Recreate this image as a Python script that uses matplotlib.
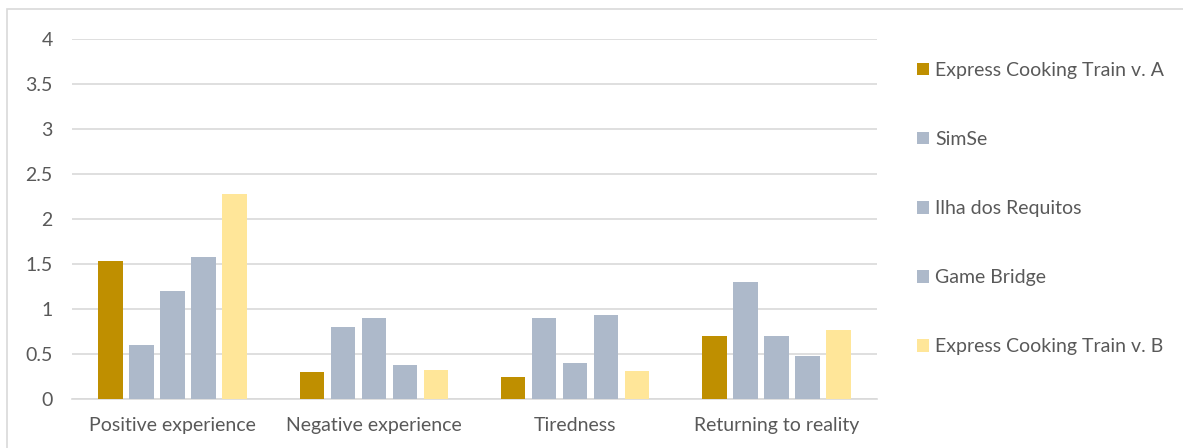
import matplotlib
matplotlib.use("Agg")
import matplotlib.pyplot as plt
from matplotlib.patches import Rectangle
import numpy as np

categories = ["Positive experience", "Negative experience", "Tiredness", "Returning to reality"]
series_names = ["Express Cooking Train v. A", "SimSe", "Ilha dos Requitos", "Game Bridge",
                "Express Cooking Train v. B"]
express_a = [1.53, 0.30, 0.24, 0.70]
simse = [0.60, 0.80, 0.90, 1.30]
ilha = [1.20, 0.90, 0.40, 0.70]
game_bridge = [1.58, 0.38, 0.93, 0.48]
express_b = [2.28, 0.32, 0.31, 0.77]
y_ticks = [0, 0.5, 1, 1.5, 2, 2.5, 3, 3.5, 4]
y_tick_labels = ["0", "0.5", "1", "1.5", "2", "2.5", "3", "3.5", "4"]

colors = ["#BF8F00", "#ADB9CA", "#ADB9CA", "#ADB9CA", "#FFE699"]
text_color = "#595959"
grid_color = "#D9D9D9"

plt.rcParams["font.family"] = ["Lato", "DejaVu Sans"]
fs = 14

W, H = 1183, 448
fig = plt.figure(figsize=(W / 100, H / 100), dpi=100)
ax = fig.add_axes([72 / W, 1 - 399 / H, (877 - 72) / W, (399 - 39) / H])

x = np.arange(len(categories))
step = 0.154
width = 0.122
all_series = [express_a, simse, ilha, game_bridge, express_b]
for i, (name, vals, c) in enumerate(zip(series_names, all_series, colors)):
    ax.bar(x + (i - 2) * step, vals, width=width, color=c, label=name, zorder=3)

ax.set_xlim(-0.5, len(categories) - 0.5)
ax.set_ylim(0, 4)
ax.set_yticks(y_ticks)
ax.set_yticklabels(y_tick_labels)
ax.set_xticks(x)
ax.set_xticklabels(categories)
ax.yaxis.grid(True, color=grid_color, linewidth=1.2, zorder=0)
ax.set_axisbelow(True)
for s in ["top", "right", "left"]:
    ax.spines[s].set_visible(False)
ax.spines["bottom"].set_color(grid_color)
ax.spines["bottom"].set_linewidth(1.2)
ax.spines["bottom"].set_zorder(1)
ax.tick_params(axis="both", length=0, labelsize=fs, colors=text_color)
ax.tick_params(axis="y", pad=14)
ax.tick_params(axis="x", pad=13)

leg = ax.legend(loc="upper left", bbox_to_anchor=(917 / W, 1 - 62 / H),
                bbox_transform=fig.transFigure, frameon=False, fontsize=fs,
                handlelength=0.6, handleheight=0.6, handletextpad=0.35,
                labelspacing=2.68, borderaxespad=0, borderpad=0)
for t in leg.get_texts():
    t.set_color(text_color)

fig.add_artist(Rectangle((7 / W, -0.1), 1.2, 1.1 - 9 / H,
                         transform=fig.transFigure, fill=False,
                         edgecolor=grid_color, linewidth=1.2))

fig.savefig("out.png", dpi=100)
